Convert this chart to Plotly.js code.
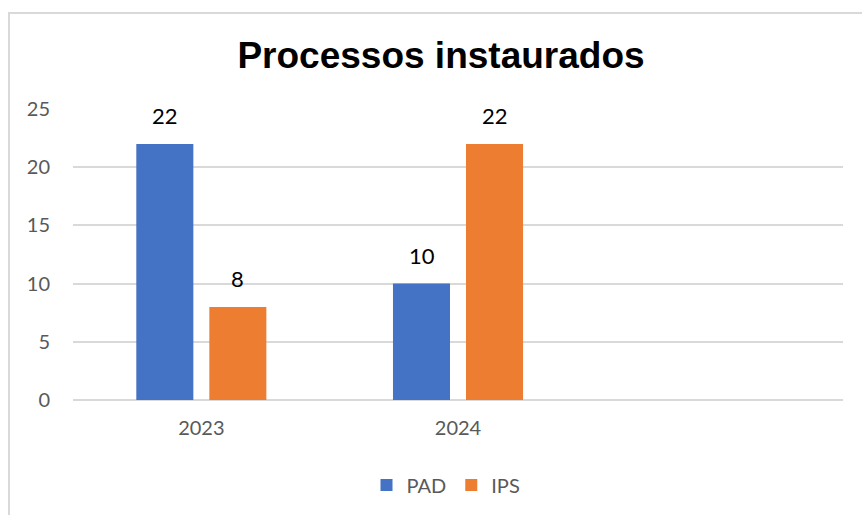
<!DOCTYPE html>
<html><head><meta charset="utf-8">
<script src="https://cdn.plot.ly/plotly-3.0.1.min.js"></script>
<style>
html,body{margin:0;padding:0;background:#fff;}
#wrap{position:relative;width:862px;height:515px;overflow:hidden;}
#chart{width:862px;height:515px;}
#frame{position:absolute;left:8px;top:12px;width:900px;height:600px;border-left:2px solid #d9d9d9;border-top:2px solid #d9d9d9;pointer-events:none;}
</style></head>
<body><div id="wrap"><div id="chart"></div><div id="frame"></div></div>
<script>
var categories = ["2023", "2024"];
var padValues = [22, 10];
var ipsValues = [8, 22];
var seriesNames = ["PAD", "IPS"];
var yTicks = [0, 5, 10, 15, 20, 25];

var colors = ["#4472c4", "#ed7d31"];
var series = [padValues, ipsValues];
var traces = series.map(function(vals, i){
  return {type:"bar", name:seriesNames[i], x:categories, y:vals,
    marker:{color:colors[i]}, hoverinfo:"none"};
});

var annotations = [];
var shifts = [-36.5, 36.5];
series.forEach(function(vals, i){
  vals.forEach(function(v, j){
    annotations.push({x:j, y:v, xref:"x", yref:"y", text:String(v),
      showarrow:false, xshift:shifts[i], yshift:13, xanchor:"center", yanchor:"bottom",
      font:{family:"Lato, sans-serif", size:22, color:"#000000"}});
  });
});

var layout = {
  width:862, height:515,
  paper_bgcolor:"#fff", plot_bgcolor:"#fff",
  margin:{l:73, r:19, t:109, b:115},
  title:{text:"<b>Processos instaurados</b>", x:441/862, xanchor:"center", y:1-55/515, yanchor:"middle",
    font:{family:"Liberation Sans, Arial, sans-serif", size:37, color:"#000"}},
  barmode:"group", bargap:0.431, bargroupgap:0.219,
  xaxis:{type:"category", categoryarray:categories, categoryorder:"array", range:[-0.5, 2.5], showgrid:false, zeroline:false,
    showline:false, ticks:"", ticklabelstandoff:14,
    tickfont:{family:"Lato, sans-serif", size:20, color:"#595959"}},
  yaxis:{range:[0,25], tickvals:yTicks, showgrid:true, gridcolor:"#d9d9d9", gridwidth:1.5,
    zeroline:true, zerolinecolor:"#d9d9d9", zerolinewidth:1.5, showline:false, ticks:"",
    ticklabelstandoff:22,
    tickfont:{family:"Lato, sans-serif", size:20, color:"#595959"}},
  showlegend:true,
  legend:{orientation:"h", xref:"container", yref:"container", x:446/862, xanchor:"center",
    y:1-485/515, yanchor:"middle", font:{family:"Lato, sans-serif", size:20, color:"#595959"},
    itemwidth:30, bgcolor:"rgba(0,0,0,0)"},
  annotations:annotations
};
Plotly.newPlot("chart", traces, layout, {displayModeBar:false});
</script></body></html>
